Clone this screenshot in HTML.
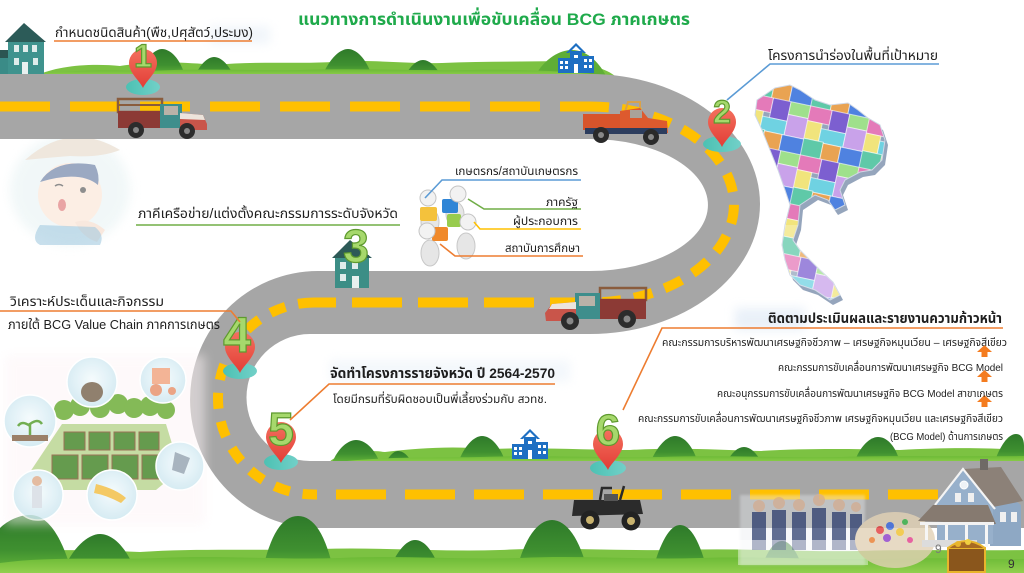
<!DOCTYPE html>
<html><head><meta charset="utf-8"><style>
html,body{margin:0;padding:0;background:#fff;}
svg{display:block;}
.t{font-family:"Liberation Sans","Noto Sans Thai","Tahoma","DejaVu Sans",sans-serif;fill:#1e1e1e;}
.n{font-family:"Liberation Sans","DejaVu Sans",sans-serif;font-weight:bold;fill:#a6d86c;stroke:#5e9a2e;stroke-width:1.2;}
</style></head><body>
<svg width="1024" height="573" viewBox="0 0 1024 573" xmlns="http://www.w3.org/2000/svg">
<defs>
 <linearGradient id="red" x1="0" y1="0" x2="0" y2="1"><stop offset="0" stop-color="#f4705e"/><stop offset="1" stop-color="#e23d36"/></linearGradient>
 <linearGradient id="teal" x1="0" y1="0" x2="1" y2="0"><stop offset="0" stop-color="#4cc1b3"/><stop offset="1" stop-color="#72d0c8"/></linearGradient>
 <linearGradient id="hill" x1="0" y1="0" x2="0" y2="1"><stop offset="0" stop-color="#2e7a2a"/><stop offset=".6" stop-color="#3f9030"/><stop offset="1" stop-color="#66b83a"/></linearGradient>
 <linearGradient id="band" x1="0" y1="0" x2="0" y2="1"><stop offset="0" stop-color="#6cba36"/><stop offset="1" stop-color="#92d04e"/></linearGradient>
 <radialGradient id="cir" cx=".5" cy=".45" r=".55"><stop offset="0" stop-color="#f4fbfd"/><stop offset="1" stop-color="#cfe8f1"/></radialGradient>
 <filter id="bl" x="-20%" y="-50%" width="140%" height="200%"><feGaussianBlur stdDeviation="5"/></filter>
 <filter id="bl2"><feGaussianBlur stdDeviation="1.2"/></filter>
 <pattern id="mp" width="60" height="50" patternUnits="userSpaceOnUse" x="755" y="85" patternTransform="rotate(12)">
  <rect x="0" y="0" width="22" height="15" fill="#e47ab9" stroke="#fff" stroke-width=".6"/>
  <rect x="22" y="0" width="18" height="20" fill="#7c5fd0" stroke="#fff" stroke-width=".6"/>
  <rect x="40" y="0" width="20" height="13" fill="#9fe08c" stroke="#fff" stroke-width=".6"/>
  <rect x="0" y="15" width="15" height="18" fill="#f1e47c" stroke="#fff" stroke-width=".6"/>
  <rect x="15" y="20" width="25" height="14" fill="#6fd2e2" stroke="#fff" stroke-width=".6"/>
  <rect x="40" y="13" width="20" height="21" fill="#c9a2ea" stroke="#fff" stroke-width=".6"/>
  <rect x="0" y="33" width="20" height="17" fill="#5fc9a8" stroke="#fff" stroke-width=".6"/>
  <rect x="20" y="34" width="18" height="16" fill="#e9a352" stroke="#fff" stroke-width=".6"/>
  <rect x="38" y="34" width="22" height="16" fill="#4f82e0" stroke="#fff" stroke-width=".6"/>
 </pattern>
</defs>

<rect width="1024" height="573" fill="#fff"/>

<!-- soft glows behind labels -->
<rect x="210" y="26" width="60" height="18" fill="#e3ecf6" opacity=".5" filter="url(#bl)"/>
<rect x="330" y="360" width="240" height="22" fill="#e8f0f8" opacity=".5" filter="url(#bl)"/>
<rect x="735" y="308" width="70" height="22" fill="#dbe7f4" opacity=".6" filter="url(#bl)"/>

<!-- farmer child (faded) -->
<g opacity=".55">
 <ellipse cx="70" cy="190" rx="60" ry="55" fill="#e6f2f3" filter="url(#bl)"/>
 <path d="M25,160 Q70,120 120,150 Q100,158 70,156 Q45,158 25,160Z" fill="#e2d4c2"/>
 <circle cx="70" cy="195" r="32" fill="#fbe1cf"/>
 <path d="M40,182 Q55,158 95,165 Q100,175 98,185 Q80,170 40,182Z" fill="#4a6392"/>
 <circle cx="83" cy="190" r="3" fill="#333"/>
 <path d="M55,186 q4,-3 8,0" stroke="#333" stroke-width="1.5" fill="none"/>
 <ellipse cx="62" cy="205" rx="4" ry="6" fill="#d85a5a"/>
 <path d="M75,222 q15,-5 30,8 l-8,12 q-15,-5 -22,-20Z" fill="#f4d6c4"/>
 <path d="M40,225 q-10,15 0,20 l60,0 q5,-10 -5,-18Z" fill="#5aa0c8" opacity=".6"/>
</g>

<!-- top hills -->
<path d="M36,76 C55,66 90,63 120,66 C150,61 185,62 215,65 C255,61 300,64 332,62 C372,59 402,64 442,63 C482,61 520,62 560,61 C590,63 608,70 615,76Z" fill="#7cc242"/>
<path d="M140,76 C145,58 155,49 162,49 C170,49 180,58 185,76Z" fill="url(#hill)"/>
<path d="M195,76 C200,64 208,57 214,57 C221,57 228,64 234,76Z" fill="url(#hill)"/>
<path d="M322,76 C330,58 340,49 348,49 C356,49 366,58 372,76Z" fill="url(#hill)"/>
<path d="M405,76 C410,66 417,60 423,60 C429,60 436,66 441,76Z" fill="url(#hill)"/>
<path d="M535,76 C545,58 560,50 572,50 C585,50 598,60 606,76Z" fill="#5fae35"/>
<path d="M30,76 C70,69 110,70 150,71 C200,68 260,71 300,70 C360,68 420,71 470,70 C520,69 570,71 612,76Z" fill="url(#band)"/>

<!-- top-left house -->
<g>
 <rect x="0" y="56" width="14" height="20" fill="#3a8b87"/>
 <polygon points="0,50 10,50 16,58 0,58" fill="#2b5552"/>
 <rect x="8" y="40" width="36" height="36" fill="#3f938e"/>
 <polygon points="5,42 24,23 46,42" fill="#2c5b58"/>
 <rect x="14" y="45" width="5" height="7" fill="#dfeceb"/>
 <rect x="23" y="45" width="5" height="7" fill="#dfeceb"/>
 <rect x="32" y="45" width="5" height="7" fill="#dfeceb"/>
 <rect x="14" y="58" width="5" height="7" fill="#dfeceb"/>
 <rect x="22" y="62" width="6" height="14" fill="#e8f0ef"/>
 <rect x="33" y="58" width="5" height="7" fill="#dfeceb"/>
</g>

<!-- school icon top -->
<g fill="#1e6fc2">
 <polygon points="566,53 576,43 586,53 583,53 576,46 569,53"/>
 <rect x="570" y="51" width="12" height="22"/>
 <rect x="558" y="58" width="13" height="15"/>
 <rect x="581" y="56" width="13" height="17"/>
 <g fill="#fff"><rect x="560" y="61" width="3" height="3"/><rect x="565" y="61" width="3" height="3"/><rect x="560" y="66" width="3" height="3"/><rect x="565" y="66" width="3" height="3"/><rect x="584" y="59" width="3" height="3"/><rect x="589" y="59" width="3" height="3"/><rect x="584" y="65" width="3" height="3"/><rect x="589" y="65" width="3" height="3"/><rect x="574" y="64" width="4" height="9"/><rect x="574" y="55" width="4" height="3"/></g>
</g>

<!-- hills above bottom road -->
<path d="M328,463 C340,452 360,449 385,452 C420,448 450,446 490,449 C540,447 590,450 630,450 C680,447 720,450 760,451 C810,448 860,449 900,450 C950,447 990,448 1024,450 L1024,463Z" fill="#7cc242"/>
<path d="M332,463 C338,448 348,440 356,440 C365,440 374,448 380,463Z" fill="url(#hill)"/>
<path d="M385,463 C390,455 394,451 398,451 C403,451 408,455 412,463Z" fill="url(#hill)"/>
<path d="M458,463 C464,446 474,436 482,436 C491,436 500,446 506,463Z" fill="url(#hill)"/>
<path d="M650,463 C657,446 667,436 675,436 C684,436 693,446 698,463Z" fill="url(#hill)"/>
<path d="M726,463 C732,452 738,447 744,447 C750,447 756,452 762,463Z" fill="url(#hill)"/>
<path d="M854,463 C860,446 870,437 878,437 C887,437 896,446 900,463Z" fill="url(#hill)"/>
<path d="M994,463 C1000,446 1008,434 1016,434 C1022,434 1024,440 1024,446 L1024,463Z" fill="url(#hill)"/>
<path d="M330,463 C380,456 430,458 480,457 C540,455 600,458 660,457 C720,455 780,458 840,457 C900,455 960,457 1024,456 L1024,463Z" fill="url(#band)"/>

<!-- school icon bottom -->
<g fill="#1e6fc2">
 <polygon points="520,439 530,429 540,439 537,439 530,432 523,439"/>
 <rect x="524" y="437" width="12" height="22"/>
 <rect x="512" y="444" width="13" height="15"/>
 <rect x="535" y="442" width="13" height="17"/>
 <g fill="#fff"><rect x="514" y="447" width="3" height="3"/><rect x="519" y="447" width="3" height="3"/><rect x="514" y="452" width="3" height="3"/><rect x="519" y="452" width="3" height="3"/><rect x="538" y="445" width="3" height="3"/><rect x="543" y="445" width="3" height="3"/><rect x="538" y="451" width="3" height="3"/><rect x="543" y="451" width="3" height="3"/><rect x="528" y="450" width="4" height="9"/><rect x="528" y="441" width="4" height="3"/></g>
</g>

<!-- ROAD -->
<path d="M0,74 L590,74 A170,130 0 0 1 590,334 L310,334 A63.5,63.5 0 0 0 310,461 L1024,461 L1024,528 L318,528 A128,128.5 0 0 1 318,271 L590,271 A118,66 0 0 0 590,139 L0,139 Z" fill="#a6a6a6"/>
<g fill="none" stroke="#ffc000" stroke-width="10">
 <path d="M0,106.5 L590,106.5" stroke-dasharray="50 20"/>
 <path d="M590,106.5 A144,98 0 0 1 590,302.5" stroke-dasharray="19 13"/>
 <path d="M590,302.5 L314,302.5" stroke-dasharray="50 16" stroke-dashoffset="10"/>
 <path d="M314,302.5 A96,96 0 0 0 314,494.5" stroke-dasharray="16 13"/>
 <path d="M314,494.5 L1024,494.5" stroke-dasharray="50 19" stroke-dashoffset="-22"/>
</g>

<!-- bottom hills -->
<path d="M0,573 L0,555 C40,548 90,550 140,552 C200,548 260,551 320,549 C380,547 440,552 500,550 C560,547 620,551 680,550 C740,548 800,552 860,551 C920,549 970,551 1024,550 L1024,573Z" fill="#7cc242"/>
<path d="M0,573 L0,528 C8,520 20,515 30,515 C45,515 60,530 72,573Z" fill="url(#hill)"/>
<path d="M62,573 C72,548 88,534 100,534 C114,534 128,550 136,573Z" fill="url(#hill)"/>
<path d="M262,573 C270,535 282,516 298,516 C314,516 326,535 334,573Z" fill="url(#hill)"/>
<path d="M388,573 C396,552 406,540 415,540 C425,540 434,552 441,573Z" fill="url(#hill)"/>
<path d="M516,573 C524,538 538,520 552,520 C566,520 580,538 588,573Z" fill="url(#hill)"/>
<path d="M652,573 C660,542 670,525 680,525 C691,525 700,542 708,573Z" fill="url(#hill)"/>
<path d="M760,573 C766,552 774,541 782,541 C790,541 798,552 804,573Z" fill="url(#hill)"/>
<path d="M0,573 L0,563 C50,556 110,560 160,558 C220,555 280,560 340,558 C400,555 460,560 520,558 C580,555 640,560 700,558 C760,556 820,560 880,559 C940,557 990,560 1024,559 L1024,573Z" fill="url(#band)"/>

<!-- map of Thailand -->
<polygon transform="translate(3,5)" points="757,100 775,88 790,85 800,90 815,100 830,105 848,103 858,110 868,118 880,125 885,140 882,160 872,170 860,172 845,180 840,190 845,205 835,210 828,200 815,195 800,205 798,225 793,240 800,250 812,262 820,270 833,282 840,295 830,300 815,290 800,285 790,275 785,260 782,245 785,225 790,205 785,190 778,170 770,150 762,130 755,115" fill="#7a8fab" opacity=".8"/>
<polygon points="757,100 775,88 790,85 800,90 815,100 830,105 848,103 858,110 868,118 880,125 885,140 882,160 872,170 860,172 845,180 840,190 845,205 835,210 828,200 815,195 800,205 798,225 793,240 800,250 812,262 820,270 833,282 840,295 830,300 815,290 800,285 790,275 785,260 782,245 785,225 790,205 785,190 778,170 770,150 762,130 755,115" fill="url(#mp)" stroke="#cfd8e6" stroke-width="1"/>
<polygon points="785,225 798,225 793,240 800,250 812,262 820,270 833,282 840,295 830,300 815,290 800,285 790,275 785,260 782,245" fill="#fff" opacity=".25"/>

<!-- farm illustration (faded) -->
<g opacity=".85">
 <rect x="5" y="355" width="200" height="170" fill="#fdf4f6" opacity=".6" filter="url(#bl)"/>
 <polygon points="30,472 62,424 166,424 180,470 156,490 54,490" fill="#bcd793"/>
 <g fill="#6faf3a">
  <circle cx="64" cy="410" r="10"/><circle cx="80" cy="406" r="10"/><circle cx="100" cy="408" r="10"/><circle cx="118" cy="404" r="10"/><circle cx="134" cy="408" r="10"/><circle cx="150" cy="406" r="10"/><circle cx="166" cy="410" r="9"/>
 </g>
 <g fill="#4b8a30" stroke="#8a5a3a" stroke-width="1">
  <rect x="64" y="432" width="21" height="18"/><rect x="89" y="432" width="21" height="18"/><rect x="114" y="432" width="21" height="18"/><rect x="139" y="432" width="20" height="18"/>
  <rect x="52" y="455" width="26" height="24"/><rect x="82" y="455" width="26" height="24"/><rect x="112" y="455" width="26" height="24"/><rect x="142" y="455" width="26" height="24"/>
 </g>
 <g stroke="#fff" stroke-width="1.5" fill="url(#cir)">
  <circle cx="92" cy="382" r="25"/><circle cx="163" cy="380" r="23"/><circle cx="30" cy="421" r="26"/><circle cx="180" cy="466" r="24"/><circle cx="38" cy="495" r="25"/><circle cx="112" cy="495" r="25"/>
 </g>
 <ellipse cx="92" cy="392" rx="11" ry="10" fill="#7d6a55"/>
 <rect x="152" y="368" width="18" height="16" fill="#f2a784"/><circle cx="156" cy="390" r="6" fill="#e89570"/><circle cx="172" cy="391" r="4" fill="#e89570"/>
 <path d="M30,435 v-12 M30,426 q-8,-6 -12,0 M30,424 q8,-6 12,0" stroke="#5aa035" stroke-width="2.5" fill="none"/>
 <rect x="12" y="435" width="36" height="6" fill="#8a6a50"/>
 <polygon points="175,452 190,458 184,474 172,470" fill="#9aa8b4"/>
 <rect x="32" y="486" width="10" height="22" fill="#d8dde5"/><circle cx="37" cy="481" r="5" fill="#e0b090"/>
 <path d="M96,484 q20,5 30,14 l-5,5 q-15,-8 -27,-10Z" fill="#f3c04a"/>
</g>

<!-- puzzle people -->
<g>
 <ellipse cx="430" cy="222" rx="9" ry="13" fill="#e6e6e6" stroke="#c8c8c8"/>
 <ellipse cx="455" cy="214" rx="9" ry="12" fill="#e6e6e6" stroke="#c8c8c8"/>
 <ellipse cx="430" cy="253" rx="9" ry="13" fill="#e6e6e6" stroke="#c8c8c8"/>
 <ellipse cx="466" cy="246" rx="9" ry="13" fill="#e6e6e6" stroke="#c8c8c8"/>
 <rect x="420" y="207" width="17" height="14" rx="2" fill="#f4c23c"/>
 <rect x="442" y="199" width="16" height="14" rx="2" fill="#2f85d6"/>
 <rect x="447" y="214" width="14" height="13" rx="2" fill="#98cc4e"/>
 <rect x="432" y="227" width="16" height="14" rx="2" fill="#f0892a"/>
 <circle cx="428" cy="198" r="8" fill="#f2f2f2" stroke="#c4c4c4"/>
 <circle cx="458" cy="194" r="8" fill="#f2f2f2" stroke="#c4c4c4"/>
 <circle cx="427" cy="231" r="8" fill="#f2f2f2" stroke="#c4c4c4"/>
 <circle cx="468" cy="222" r="8" fill="#f2f2f2" stroke="#c4c4c4"/>
</g>

<!-- trucks -->
<g>
 <rect x="118" y="99" width="44" height="13" fill="none" stroke="#8a5c3d" stroke-width="2.5"/>
 <line x1="118" y1="105" x2="162" y2="105" stroke="#8a5c3d" stroke-width="2"/>
 <rect x="118" y="111" width="46" height="17" fill="#8c3a35"/>
 <rect x="160" y="104" width="22" height="24" fill="#3e8e8c"/>
 <rect x="164" y="106" width="14" height="9" fill="#b9b2a8"/>
 <path d="M180,113 L203,115 L207,124 L207,130 L180,130Z" fill="#c9554a"/>
 <path d="M180,113 L203,115 L205,120 L180,119Z" fill="#ece4dc"/>
 <circle cx="136" cy="130" r="8" fill="#2c2c2c"/><circle cx="136" cy="130" r="3" fill="#888"/>
 <circle cx="187" cy="131" r="8" fill="#2c2c2c"/><circle cx="187" cy="131" r="3" fill="#888"/>
</g>
<g>
 <path d="M625,112 L628,102 L640,102 L640,110" fill="none" stroke="#d9a24a" stroke-width="2"/>
 <rect x="583" y="114" width="40" height="16" fill="#d8542b"/>
 <path d="M620,111 L640,108 L648,118 L667,121 L668,133 L620,133Z" fill="#dd5a2e"/>
 <rect x="630" y="110" width="12" height="8" fill="#a9a39a"/>
 <rect x="585" y="128" width="82" height="6" fill="#2c3d5e"/>
 <circle cx="601" cy="135" r="8" fill="#2a2a2a"/><circle cx="601" cy="135" r="3" fill="#888"/>
 <circle cx="651" cy="137" r="8" fill="#2a2a2a"/><circle cx="651" cy="137" r="3" fill="#888"/>
</g>
<g>
 <rect x="600" y="288" width="46" height="12" fill="none" stroke="#8a5c3d" stroke-width="2.5"/>
 <rect x="598" y="299" width="48" height="20" fill="#8c3a35"/>
 <rect x="575" y="293" width="25" height="26" fill="#3e8e8c"/>
 <rect x="579" y="296" width="16" height="10" fill="#b9b2a8"/>
 <path d="M576,302 L552,304 L545,313 L546,321 L576,321Z" fill="#c9554a"/>
 <path d="M576,302 L552,304 L549,309 L576,309Z" fill="#ece4dc"/>
 <circle cx="570" cy="321" r="9" fill="#2c2c2c"/><circle cx="570" cy="321" r="3.5" fill="#888"/>
 <circle cx="627" cy="319" r="9" fill="#2c2c2c"/><circle cx="627" cy="319" r="3.5" fill="#888"/>
</g>
<g>
 <path d="M600,500 L602,488 L612,488 M620,500 L624,486" stroke="#2a2a2a" stroke-width="2.5" fill="none"/>
 <path d="M574,500 L640,500 L643,514 L572,516Z" fill="#2b2b2b"/>
 <rect x="604" y="494" width="14" height="7" fill="#555"/>
 <circle cx="590" cy="520" r="9.5" fill="#222"/><circle cx="590" cy="520" r="4" fill="#c8b26e"/>
 <circle cx="631" cy="521" r="9.5" fill="#222"/><circle cx="631" cy="521" r="4" fill="#c8b26e"/>
</g>

<!-- house 3 -->
<g>
 <rect x="335" y="255" width="34" height="33" fill="#3c8e86"/>
 <polygon points="332,258 350,240 372,258" fill="#2d5a57"/>
 <rect x="340" y="262" width="6" height="7" fill="#dfeceb"/><rect x="352" y="262" width="6" height="7" fill="#dfeceb"/>
 <rect x="340" y="274" width="6" height="7" fill="#dfeceb"/><rect x="352" y="276" width="7" height="12" fill="#e8f0ef"/>
 <text class="n" x="356" y="262" font-size="46" text-anchor="middle">3</text>
</g>

<!-- pins -->
<g transform="translate(143,88)">
 <ellipse cx="0" cy="-1" rx="17" ry="8" fill="url(#teal)"/>
 <path d="M0,0 C-3,-7 -14,-15 -14,-25 A14,14 0 1 1 14,-25 C14,-15 3,-7 0,0Z" fill="url(#red)"/>
 <text class="n" x="0" y="-21" font-size="32" text-anchor="middle">1</text>
</g>
<g transform="translate(722,147)">
 <ellipse cx="0" cy="-3" rx="19" ry="8" fill="url(#teal)"/>
 <path d="M0,0 C-3,-7 -14,-15 -14,-25 A14,14 0 1 1 14,-25 C14,-15 3,-7 0,0Z" fill="url(#red)"/>
 <text class="n" x="0" y="-24" font-size="32" text-anchor="middle">2</text>
</g>
<g transform="translate(240,373)">
 <ellipse cx="0" cy="-2" rx="17" ry="8" fill="url(#teal)"/>
 <path d="M0,0 C-3,-7 -15,-16 -15,-26 A15,15 0 1 1 15,-26 C15,-16 3,-7 0,0Z" fill="url(#red)"/>
 <text class="n" x="-3" y="-21" font-size="50" text-anchor="middle">4</text>
</g>
<g transform="translate(281,463)">
 <ellipse cx="0" cy="-1" rx="17" ry="8" fill="url(#teal)"/>
 <path d="M0,0 C-3,-7 -15,-16 -15,-26 A15,15 0 1 1 15,-26 C15,-16 3,-7 0,0Z" fill="url(#red)"/>
 <text class="n" x="0" y="-18" font-size="46" text-anchor="middle">5</text>
</g>
<g transform="translate(608,470)">
 <ellipse cx="0" cy="-2" rx="18" ry="8" fill="url(#teal)"/>
 <path d="M0,0 C-3,-7 -15,-16 -15,-26 A15,15 0 1 1 15,-26 C15,-16 3,-7 0,0Z" fill="url(#red)"/>
 <text class="n" x="0" y="-25" font-size="44" text-anchor="middle">6</text>
</g>

<!-- bottom-right images -->
<g opacity=".8">
 <rect x="740" y="495" width="125" height="70" fill="#e8ebf0" opacity=".5" filter="url(#bl2)"/>
 <g fill="#3a4a78"><rect x="752" y="512" width="14" height="38"/><rect x="772" y="510" width="14" height="40"/><rect x="792" y="512" width="14" height="38"/><rect x="812" y="508" width="14" height="42"/><rect x="832" y="512" width="14" height="38"/><rect x="850" y="514" width="12" height="36"/></g>
 <g fill="#d9b49a"><circle cx="759" cy="506" r="6"/><circle cx="779" cy="503" r="6"/><circle cx="799" cy="505" r="6"/><circle cx="819" cy="500" r="6"/><circle cx="839" cy="505" r="6"/><circle cx="856" cy="507" r="5"/></g>
 <rect x="738" y="540" width="130" height="25" fill="#fff" opacity=".5"/>
 <ellipse cx="895" cy="540" rx="40" ry="28" fill="#e2d2b6"/>
 <g><circle cx="880" cy="530" r="4" fill="#e23a3a"/><circle cx="890" cy="526" r="4" fill="#3a6ae2"/><circle cx="900" cy="532" r="4" fill="#f0c02a"/><circle cx="887" cy="538" r="4" fill="#8a3ac8"/><circle cx="905" cy="522" r="3" fill="#3ab84a"/><circle cx="872" cy="540" r="3" fill="#e87a2a"/><circle cx="910" cy="540" r="3" fill="#e23a8a"/></g>
</g>
<!-- blue house -->
<g>
 <polygon points="990,482 1021,505 1021,546 990,546" fill="#8ea8c4"/>
 <polygon points="963,469 1001,467 1023,501 993,507" fill="#8c8178"/>
 <rect x="980" y="459" width="8" height="11" fill="#6f6a66"/>
 <polygon points="963,470 937,503 937,544 993,544 993,507" fill="#97b0cb"/>
 <polyline points="935,505 963,469 995,509" fill="none" stroke="#f4f4f4" stroke-width="2.2"/>
 <circle cx="964" cy="485" r="4" fill="#eef2f6" stroke="#fff"/>
 <rect x="1000" y="512" width="6" height="10" fill="#f0f0f0"/><rect x="1011" y="512" width="6" height="10" fill="#f0f0f0"/>
 <rect x="955" y="493" width="6" height="9" fill="#f0f0f0"/><rect x="968" y="493" width="6" height="9" fill="#f0f0f0"/>
 <polygon points="918,521 933,505 988,505 996,524" fill="#867a70"/>
 <rect x="920" y="522" width="74" height="3" fill="#f2f2f2"/>
 <g fill="#f6f6f6"><rect x="925" y="525" width="3" height="22"/><rect x="945" y="525" width="3" height="22"/><rect x="965" y="525" width="3" height="22"/><rect x="985" y="525" width="3" height="22"/></g>
 <rect x="922" y="540" width="55" height="7" fill="#dcdcdc"/>
 <rect x="948" y="548" width="37" height="24" fill="#8a561c" stroke="#e8b52c" stroke-width="2"/>
 <path d="M948,548 q18,-14 37,0" fill="#a86a22" stroke="#e8b52c" stroke-width="2"/>
 <circle cx="958" cy="544" r="3" fill="#e8b52c"/><circle cx="968" cy="542" r="3" fill="#f0d040"/>
</g>
<text x="935" y="553" font-family="Liberation Sans,sans-serif" font-size="12" fill="#7a7a7a">9</text>
<text x="1008" y="568" font-family="Liberation Sans,sans-serif" font-size="12" fill="#333">9</text>

<!-- connectors -->
<g fill="none" stroke-width="1.6">
 <line x1="54" y1="41" x2="252" y2="41" stroke="#ed7d31"/>
 <polyline points="727,100 770,64 939,64" stroke="#5b9bd5"/>
 <line x1="136" y1="225" x2="400" y2="225" stroke="#70ad47"/>
 <polyline points="425,198 442,180 581,180" stroke="#5b9bd5"/>
 <polyline points="468,199 484,209 581,209" stroke="#70ad47"/>
 <polyline points="474,222 480,229 581,229" stroke="#ffc000"/>
 <polyline points="440,244 455,256 583,256" stroke="#ed7d31"/>
 <polyline points="0,311 231,311 240,322" stroke="#ed7d31"/>
 <polyline points="290,420 329,384 555,384" stroke="#ed7d31"/>
 <polyline points="623,410 662,328 1003,328" stroke="#ed7d31"/>
</g>

<!-- orange arrows -->
<g fill="#f47c20">
 <polygon points="977,352 984.5,345 992,352"/><rect x="981.5" y="352" width="6" height="5"/>
 <polygon points="977,377 984.5,370 992,377"/><rect x="981.5" y="377" width="6" height="5"/>
 <polygon points="977,402 984.5,395 992,402"/><rect x="981.5" y="402" width="6" height="5"/>
</g>

<!-- text -->
<text class="t" x="298" y="25" font-size="17" font-weight="bold" style="fill:#1faa4b" textLength="392" lengthAdjust="spacingAndGlyphs">แนวทางการดำเนินงานเพื่อขับเคลื่อน BCG ภาคเกษตร</text>
<text class="t" x="55" y="37" font-size="13.5" textLength="198" lengthAdjust="spacingAndGlyphs">กำหนดชนิดสินค้า(พืช,ปศุสัตว์,ประมง)</text>
<text class="t" x="768" y="60" font-size="13.5" textLength="170" lengthAdjust="spacingAndGlyphs">โครงการนำร่องในพื้นที่เป้าหมาย</text>
<text class="t" x="138" y="218" font-size="13.5" textLength="260" lengthAdjust="spacingAndGlyphs">ภาคีเครือข่าย/แต่งตั้งคณะกรรมการระดับจังหวัด</text>
<text class="t" x="455" y="175" font-size="11.5" textLength="123" lengthAdjust="spacingAndGlyphs">เกษตรกร/สถาบันเกษตรกร</text>
<text class="t" x="546" y="206" font-size="11.5" textLength="32" lengthAdjust="spacingAndGlyphs">ภาครัฐ</text>
<text class="t" x="513" y="225" font-size="11.5" textLength="65" lengthAdjust="spacingAndGlyphs">ผู้ประกอบการ</text>
<text class="t" x="505" y="252" font-size="11.5" textLength="75" lengthAdjust="spacingAndGlyphs">สถาบันการศึกษา</text>
<text class="t" x="10" y="306" font-size="13.5" textLength="154" lengthAdjust="spacingAndGlyphs">วิเคราะห์ประเด็นและกิจกรรม</text>
<text class="t" x="8" y="329" font-size="13" textLength="212" lengthAdjust="spacingAndGlyphs">ภายใต้ BCG Value Chain ภาคการเกษตร</text>
<text class="t" x="330" y="378" font-size="14" font-weight="bold" textLength="225" lengthAdjust="spacingAndGlyphs">จัดทำโครงการรายจังหวัด ปี 2564-2570</text>
<text class="t" x="333" y="403" font-size="11.5" textLength="214" lengthAdjust="spacingAndGlyphs">โดยมีกรมที่รับผิดชอบเป็นพี่เลี้ยงร่วมกับ สวทช.</text>
<text class="t" x="768" y="323" font-size="14" font-weight="bold" textLength="234" lengthAdjust="spacingAndGlyphs">ติดตามประเมินผลและรายงานความก้าวหน้า</text>
<text class="t" x="662" y="346" font-size="10.5" textLength="345" lengthAdjust="spacingAndGlyphs">คณะกรรมการบริหารพัฒนาเศรษฐกิจชีวภาพ – เศรษฐกิจหมุนเวียน – เศรษฐกิจสีเขียว</text>
<text class="t" x="778" y="371" font-size="10.5" textLength="225" lengthAdjust="spacingAndGlyphs">คณะกรรมการขับเคลื่อนการพัฒนาเศรษฐกิจ BCG Model</text>
<text class="t" x="717" y="397" font-size="10.5" textLength="286" lengthAdjust="spacingAndGlyphs">คณะอนุกรรมการขับเคลื่อนการพัฒนาเศรษฐกิจ BCG Model สาขาเกษตร</text>
<text class="t" x="638" y="422" font-size="10.5" textLength="365" lengthAdjust="spacingAndGlyphs">คณะกรรมการขับเคลื่อนการพัฒนาเศรษฐกิจชีวภาพ เศรษฐกิจหมุนเวียน และเศรษฐกิจสีเขียว</text>
<text class="t" x="890" y="440" font-size="10.5" textLength="113" lengthAdjust="spacingAndGlyphs">(BCG Model) ด้านการเกษตร</text>
</svg>
</body></html>
